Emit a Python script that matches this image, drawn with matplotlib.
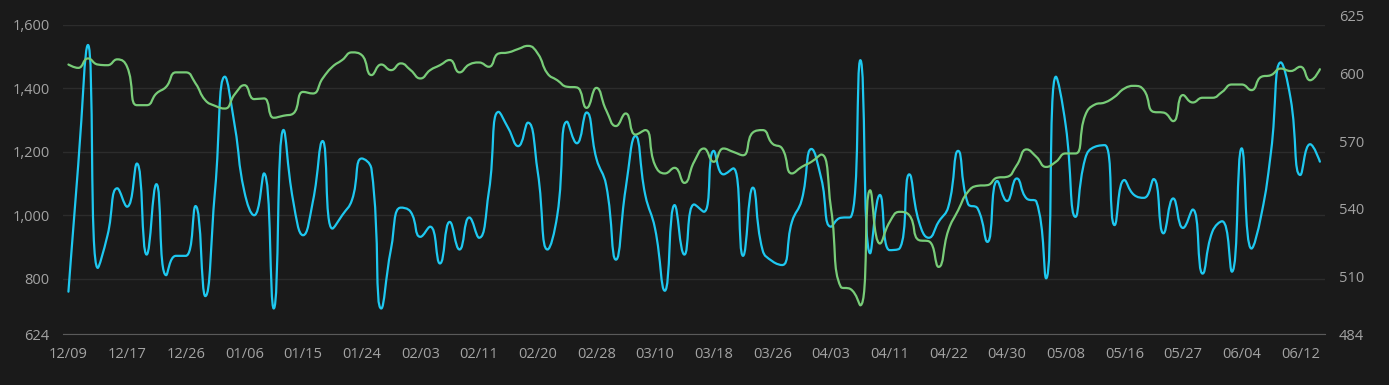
import numpy as np
import pandas as pd
import matplotlib
matplotlib.use("Agg")
import matplotlib.pyplot as plt
from matplotlib.path import Path
from matplotlib.patches import PathPatch

# trading days (US market holidays removed)
holidays = ["2024-12-25", "2025-01-01", "2025-01-09", "2025-01-20",
            "2025-02-17", "2025-04-18", "2025-05-26"]
dates = pd.bdate_range("2024-12-09", "2025-06-16", freq="C", holidays=holidays)

# left axis series (cyan)
blue_vals = [
    759, 1158, 1537, 834, 937, 1085, 1027, 1163, 876, 1098,
    811, 872, 872, 1029, 745, 1080, 1437, 1284, 1074, 1000,
    1132, 706, 1269, 1043, 937, 1043, 1234, 958, 1000, 1048,
    1179, 1145, 706, 895, 1024, 1011, 932, 964, 848, 979,
    892, 993, 929, 1074, 1326, 1274, 1218, 1292, 1137, 892,
    1000, 1295, 1227, 1324, 1179, 1095, 860, 1085, 1250, 1064,
    958, 762, 1032, 876, 1034, 1011, 1203, 1129, 1148, 872,
    1087, 890, 855, 843, 979, 1048, 1209, 1116, 964, 992,
    994, 1489, 880, 1064, 890, 895, 1129, 979, 929, 979,
    1027, 1203, 1037, 1021, 916, 1108, 1045, 1116, 1053, 1043,
    801, 1437, 1284, 995, 1179, 1216, 1221, 969, 1111, 1064,
    1055, 1114, 943, 1053, 960, 1018, 816, 948, 981, 822,
    1211, 895, 1000, 1200, 1482, 1369, 1127, 1224, 1169,
]

# right axis series (green)
green_vals = [
    604.2, 602.7, 606.9, 604.2, 603.9, 606.5, 603.2, 586.1, 586.1, 591.3,
    594.3, 600.7, 600.7, 595.8, 588.3, 585.8, 584.6, 590.9, 595.0, 588.8,
    589.1, 580.5, 581.4, 582.4, 592.0, 591.3, 598.0, 603.2, 606.2, 609.6,
    608.4, 599.5, 604.2, 601.7, 604.7, 601.7, 598.0, 601.7, 603.9, 606.2,
    600.7, 604.2, 605.1, 603.2, 609.1, 609.6, 611.1, 612.5, 609.1, 600.2,
    597.2, 594.3, 594.0, 584.9, 593.8, 583.9, 576.8, 582.4, 573.0, 575.0,
    559.4, 555.7, 558.2, 551.5, 560.9, 566.8, 560.9, 566.8, 565.3, 563.8,
    573.9, 575.0, 569.0, 566.8, 555.7, 558.6, 560.9, 564.1, 540.1, 505.2,
    504.2, 497.0, 548.2, 524.5, 534.1, 538.6, 537.1, 526.0, 525.5, 514.1,
    530.4, 539.3, 547.5, 550.2, 550.5, 553.8, 554.2, 559.4, 566.4, 563.1,
    558.6, 560.9, 564.6, 564.6, 581.6, 586.4, 587.3, 589.8, 593.5, 594.7,
    592.8, 583.1, 582.8, 579.0, 590.6, 587.3, 589.4, 589.4, 592.0, 595.3,
    595.3, 592.8, 598.7, 599.5, 602.4, 601.3, 603.2, 597.2, 602.1,
]

left_ticks = [624, 800, 1000, 1200, 1400, 1600]
right_ticks = [484, 510, 540, 570, 600, 625]

BG = "#1a1a1a"
GRID = "#2c2c2c"
TXT = "#a3a3a3"
CYAN = "#1ec8f0"
GREEN = "#78cc78"

plt.rcParams["font.family"] = ["Open Sans", "DejaVu Sans"]
plt.rcParams["font.size"] = 10.5


def smooth_line(ax, xs, ys, color, smooth=0.5):
    """Bezier smoothing like echarts 'smooth: true', done in pixel space."""
    p = ax.transData.transform(np.column_stack([xs, ys]))
    n = len(p)
    verts = [p[0]]
    codes = [Path.MOVETO]
    cp0 = p[0].copy()
    for i in range(1, n):
        cur = p[i]
        if i == n - 1:
            cp1 = cur.copy()
            nxt_cp0 = cur.copy()
        else:
            prv, nxt = p[i - 1], p[i + 1]
            v = nxt - prv
            d0 = np.hypot(*(cur - prv))
            d1 = np.hypot(*(nxt - cur))
            ratio = d1 / (d0 + d1) if d0 + d1 > 0 else 0.5
            nxt_cp0 = cur + v * smooth * ratio
            nxt_cp0 = np.minimum(nxt_cp0, np.maximum(nxt, cur))
            nxt_cp0 = np.maximum(nxt_cp0, np.minimum(nxt, cur))
            vv = nxt_cp0 - cur
            cp1 = cur - vv * (d0 / d1 if d1 > 0 else 0)
            cp1 = np.minimum(cp1, np.maximum(prv, cur))
            cp1 = np.maximum(cp1, np.minimum(prv, cur))
            vv = cur - cp1
            nxt_cp0 = cur + vv * (d1 / d0 if d0 > 0 else 0)
        verts += [cp0, cp1, cur]
        codes += [Path.CURVE4] * 3
        cp0 = nxt_cp0
    verts = ax.transData.inverted().transform(np.array(verts))
    patch = PathPatch(Path(verts, codes), facecolor="none", edgecolor=color,
                      lw=1.6, transform=ax.transData, capstyle="round",
                      joinstyle="round")
    ax.add_patch(patch)


fig = plt.figure(figsize=(13.89, 3.85), dpi=100, facecolor=BG)
ax = fig.add_axes([0.0456, 0.1312, 0.9083, 0.8039], facecolor=BG)
ax2 = ax.twinx()

n = len(blue_vals)
x = np.arange(n)
labels = [d.strftime("%m/%d") for d in dates[:n]]

ax.set_xlim(-0.52, n - 1 + 0.52)
ax.set_ylim(624, 1600)
ax2.set_ylim(484, 621.8)

ax.set_yticks(left_ticks)
ax.set_yticklabels([f"{t:,}" for t in left_ticks])
ax2.set_yticks([t for t in right_ticks if t <= 621.8])
ax.set_xticks(x[::6])
ax.set_xticklabels(labels[::6])

for a in (ax, ax2):
    for s in a.spines.values():
        s.set_visible(False)
    a.tick_params(length=0, colors=TXT, labelsize=10.5)
ax.tick_params(axis="y", pad=10)
ax2.tick_params(axis="y", pad=10)
ax.tick_params(axis="x", pad=9)

ax.grid(axis="y", color=GRID, lw=1)
ax.set_axisbelow(True)
ax.spines["bottom"].set_visible(True)
ax.spines["bottom"].set_color("#5a5a5a")

# top label of the right axis sits above the plot area
ax2.annotate(f"{right_ticks[-1]}", xy=(1, right_ticks[-1]),
             xycoords=("axes fraction", "data"), xytext=(10, 0),
             textcoords="offset points", ha="left", va="center",
             color=TXT, fontsize=10.5, annotation_clip=False)

smooth_line(ax, x, blue_vals, CYAN)
smooth_line(ax2, x, green_vals, GREEN)

fig.savefig("out.png", dpi=100, facecolor=BG)
